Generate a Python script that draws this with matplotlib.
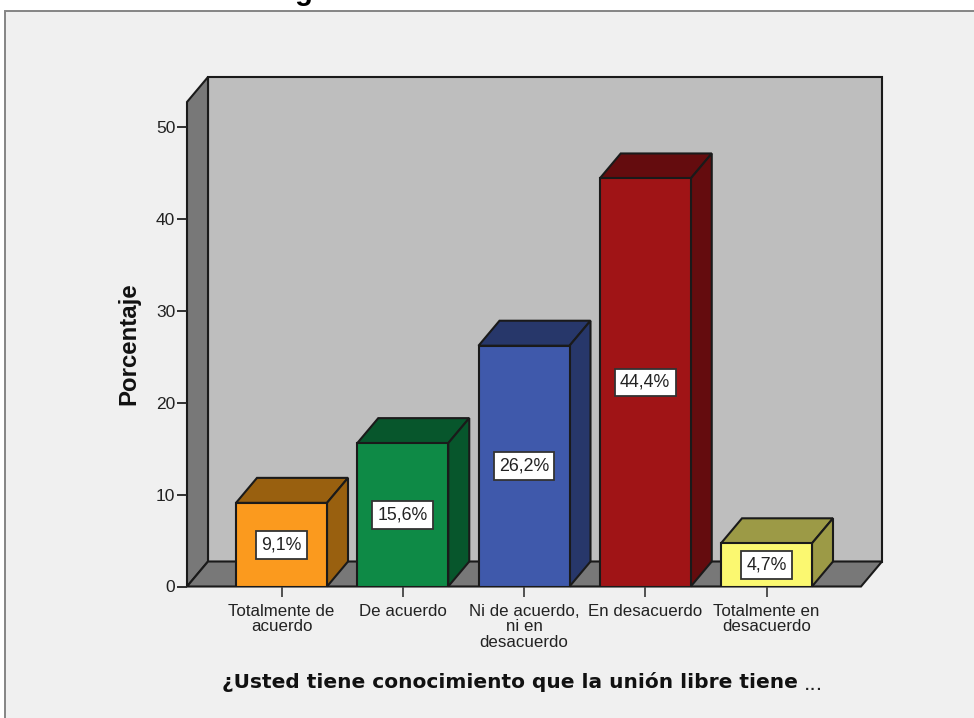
import matplotlib
matplotlib.use('Agg')
import matplotlib.pyplot as plt
from matplotlib.patches import Polygon, Rectangle

W, H = 974, 718

categories = ['Totalmente de\nacuerdo', 'De acuerdo', 'Ni de acuerdo,\nni en\ndesacuerdo',
              'En desacuerdo', 'Totalmente en\ndesacuerdo']
values = [9.1, 15.6, 26.2, 44.4, 4.7]
value_labels = ['9,1%', '15,6%', '26,2%', '44,4%', '4,7%']
front_colors = ['#FB9A1E', '#0E8A46', '#3F59AB', '#A01416', '#FBF870']
side_colors = ['#99600F', '#07562C', '#27376A', '#640C0E', '#9C9A46']
yticks = [0, 10, 20, 30, 40, 50]

title = 'Figura 13. Áreas de Matrimonio'
xlabel = '¿Usted tiene conocimiento que la unión libre tiene'
ylabel = 'Porcentaje'

EDGE = '#1a1a1a'
LW = 1.5

plt.rcParams['font.family'] = ['Liberation Sans', 'DejaVu Sans']

fig = plt.figure(figsize=(W / 100, H / 100), dpi=100, facecolor='white')

# grey panel with its thin frame, runs off the right and bottom of the image
panel = Rectangle((5 / W, -0.05), 1.05, 1.05 + (H - 11) / H - 1, transform=fig.transFigure,
                  facecolor='#F0F0F0', edgecolor='#858585', linewidth=1.4, clip_on=False, zorder=-1)
fig.add_artist(panel)

# axes match the front edge of the floor, so y units are real percentages
left, right, bottom, top = 187, 861, 586.5, 102
ax = fig.add_axes([left / W, (H - bottom) / H, (right - left) / W, (bottom - top) / H])
ax.patch.set_visible(False)

step = 121.25
ax.set_xlim((left - 281.5) / step, (right - 281.5) / step)
ax.set_ylim(0, (bottom - top) / 9.19)

# depth of the fake 3d, in data units
dx = 21 / step
dy = 25 / 9.19
x0, x1 = ax.get_xlim()
ymax = ax.get_ylim()[1]

wall = Polygon([(x0 + dx, dy), (x1 + dx, dy), (x1 + dx, ymax + dy), (x0 + dx, ymax + dy)],
               facecolor='#BEBEBE', edgecolor=EDGE, linewidth=LW, clip_on=False, zorder=1)
side_wall = Polygon([(x0, 0), (x0 + dx, dy), (x0 + dx, ymax + dy), (x0, ymax)],
                    facecolor='#787878', edgecolor=EDGE, linewidth=LW, clip_on=False, zorder=1)
floor = Polygon([(x0, 0), (x1, 0), (x1 + dx, dy), (x0 + dx, dy)],
                facecolor='#787878', edgecolor=EDGE, linewidth=LW, clip_on=False, zorder=1)
ax.add_patch(wall)
ax.add_patch(side_wall)
ax.add_patch(floor)

bw = 91 / step
pos = list(range(len(values)))
ax.bar(pos, values, width=bw, color=front_colors, edgecolor=EDGE, linewidth=LW, zorder=3)

for i, v in enumerate(values):
    l, r = i - bw / 2, i + bw / 2
    ax.add_patch(Polygon([(l, v), (r, v), (r + dx, v + dy), (l + dx, v + dy)], facecolor=side_colors[i],
                         edgecolor=EDGE, linewidth=LW, clip_on=False, zorder=2))
    ax.add_patch(Polygon([(r, 0), (r + dx, dy), (r + dx, v + dy), (r, v)], facecolor=side_colors[i],
                         edgecolor=EDGE, linewidth=LW, clip_on=False, zorder=2))
    ax.text(i, v / 2, value_labels[i], ha='center', va='center', fontsize=12.8, color='#222222', zorder=5,
            bbox=dict(boxstyle='square,pad=0.3', facecolor='white', edgecolor='#333333', linewidth=1.3))

for s in ax.spines.values():
    s.set_visible(False)

ax.set_yticks(yticks)
ax.set_xticks(pos)
ax.set_xticklabels(categories, linespacing=1.03)
ax.tick_params(axis='y', length=7.5, width=1.3, color='#222222', labelsize=12.5, labelcolor='#222222', pad=1)
ax.tick_params(axis='x', length=7.5, width=1.3, color='#444444', labelsize=12.2, labelcolor='#222222', pad=5)

fig.text(129 / W, 1 - 344 / H, ylabel, rotation=90, ha='center', va='center', fontsize=17.3,
         fontweight='bold', color='#111111')
fig.text(222 / W, 1 - 682 / H, xlabel, ha='left', va='center', fontsize=14.5, fontweight='bold',
         family='DejaVu Sans', color='#111111')
fig.text(813 / W, 1 - 690 / H, '...', ha='center', va='baseline', fontsize=14.5, family='DejaVu Sans',
         color='#222222')

# the title is cut by the top of the image, only its lower edge shows
fig.text(486 / W, 1 - 0.5 / H, title, ha='center', va='baseline', fontsize=21, fontweight='bold', color='black')

fig.savefig('out.png', dpi=100, facecolor=fig.get_facecolor())
